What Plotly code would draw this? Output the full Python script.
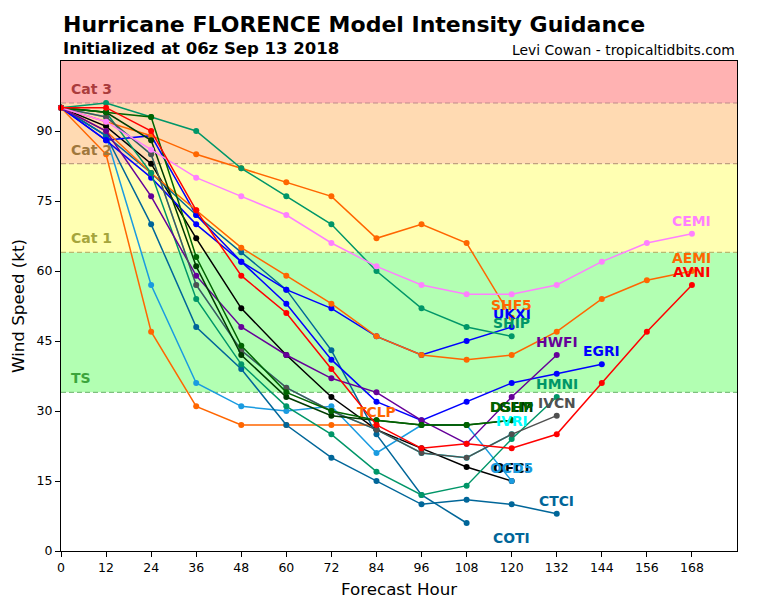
import plotly.graph_objects as go

hours = [0, 12, 24, 36, 48, 60, 72, 84, 96, 108, 120, 132, 144, 156, 168]

# Model intensity forecasts (kt)
IVRI = [95, 93, 85, 57, 43, 35, 30, 26, 21, 20, 25]
TCLP = [95, 85, 47, 31, 27, 27, 27, 27]
OFCI = [95, 91, 83, 67, 52, 42, 33, 26, 22, 18, 15]
OCD5 = [95, 89, 57, 36, 31, 30, 31, 21, 27, 27, 15]
COTI = [95, 89, 81, 72, 64, 56, 43, 25, 12, 6]
CTCI = [95, 89, 70, 48, 39, 27, 20, 15, 10, 11, 10, 8]
EGRI = [95, 88, 80, 70, 62, 53, 41, 32, 28, 32, 36, 38, 40]
UKXI = [95, 88, 89, 72, 62, 56, 52, 46, 42, 45, 48]
AEMI = [95, 90, 81, 73, 65, 59, 53, 46, 42, 41, 42, 47, 54, 58, 60]
SHF5 = [95, 92, 89, 85, 82, 79, 76, 67, 70, 66, 50]
SHIP = [95, 96, 93, 90, 82, 76, 70, 60, 52, 48, 46]
HMNI = [95, 94, 81, 54, 40, 31, 25, 17, 12, 14, 24, 33]
HWFI = [95, 90, 76, 59, 48, 42, 37, 34, 28, 23, 33, 42]
IVCN = [95, 93, 85, 57, 43, 35, 30, 26, 21, 20, 25, 29]
LGEM = [95, 94, 88, 61, 42, 33, 29, 28, 27, 27, 28]
DSHP = [95, 94, 93, 63, 44, 34, 30, 28, 27, 27, 28]
CEMI = [95, 92, 86, 80, 76, 72, 66, 61, 57, 55, 55, 57, 62, 66, 68]
AVNI = [95, 95, 90, 73, 59, 51, 39, 27, 22, 23, 22, 25, 36, 47, 57]

models = [
    ("IVRI", IVRI, "#00ffff"),
    ("TCLP", TCLP, "#ff6600"),
    ("OFCI", OFCI, "#000000"),
    ("OCD5", OCD5, "#1a9be0"),
    ("COTI", COTI, "#006699"),
    ("CTCI", CTCI, "#006699"),
    ("EGRI", EGRI, "#0000ff"),
    ("UKXI", UKXI, "#0000ff"),
    ("AEMI", AEMI, "#ff6600"),
    ("SHF5", SHF5, "#ff6600"),
    ("SHIP", SHIP, "#009668"),
    ("HMNI", HMNI, "#009668"),
    ("HWFI", HWFI, "#660099"),
    ("IVCN", IVCN, "#505050"),
    ("LGEM", LGEM, "#003c00"),
    ("DSHP", DSHP, "#006400"),
    ("CEMI", CEMI, "#ff80ff"),
    ("AVNI", AVNI, "#ff0000"),
]

# label location overrides (hour, kt) for models whose label is not at the last drawn point
label_override = {"COTI": (120, 0)}

# Saffir-Simpson bands
band_names = ["TS", "Cat 1", "Cat 2", "Cat 3"]
band_low = [34, 64, 83, 96]
band_high = [64, 83, 96, 105]
band_fill = ["#b2ffb2", "#ffffb2", "#ffdab2", "#ffb2b2"]
band_line = ["#7fc07f", "#b8b870", "#c0a080", "#c08a8a"]
band_text = ["#3ca53c", "#a5a53c", "#a0783c", "#aa3c3c"]

x_ticks = list(range(0, 169, 12))
y_ticks = list(range(0, 91, 15))

FONT = "DejaVu Sans"

fig = go.Figure()

shapes = []
annotations = []
for name, lo, hi, fc, lc, tc in zip(band_names, band_low, band_high, band_fill, band_line, band_text):
    shapes.append(dict(type="rect", xref="paper", yref="y", x0=0, x1=1, y0=lo, y1=hi,
                       fillcolor=fc, line=dict(width=0), layer="below"))
    shapes.append(dict(type="line", xref="paper", yref="y", x0=0, x1=1, y0=lo, y1=lo,
                       line=dict(color=lc, width=1.2, dash="5px,3px"), layer="below"))
    annotations.append(dict(x=2, y=lo + 3, xref="x", yref="y", text="<b>%s</b>" % name,
                            showarrow=False, xanchor="left", yanchor="middle",
                            font=dict(family=FONT, size=14, color=tc)))

for name, vals, color in models:
    xs = hours[:len(vals)]
    fig.add_trace(go.Scatter(x=xs, y=vals, mode="lines+markers", name=name,
                             line=dict(color=color, width=1.5),
                             marker=dict(color=color, size=6),
                             showlegend=False, cliponaxis=False))

for name, vals, color in models:
    lx, ly = label_override.get(name, (hours[len(vals) - 1], vals[-1]))
    annotations.append(dict(x=lx, y=ly, xref="x", yref="y", text="<b>%s</b>" % name,
                            showarrow=False, xanchor="center", yanchor="middle", yshift=13,
                            font=dict(family=FONT, size=13.9, color=color)))

annotations += [
    dict(x=0, y=1.0755, xref="paper", yref="paper", text="<b>Hurricane FLORENCE Model Intensity Guidance</b>",
         showarrow=False, xanchor="left", yanchor="middle", font=dict(family=FONT, size=22, color="black")),
    dict(x=0, y=1.0265, xref="paper", yref="paper", text="<b>Initialized at 06z Sep 13 2018</b>",
         showarrow=False, xanchor="left", yanchor="middle", font=dict(family=FONT, size=16.5, color="black")),
    dict(x=1, y=1.0224, xref="paper", yref="paper", text="Levi Cowan - tropicaltidbits.com",
         showarrow=False, xanchor="right", yanchor="middle", font=dict(family=FONT, size=13.9, color="black")),
    dict(x=0.5, y=-0.0776, xref="paper", yref="paper", text="Forecast Hour",
         showarrow=False, xanchor="center", yanchor="middle", font=dict(family=FONT, size=16.7, color="black")),
    dict(x=-0.0636, y=0.5, xref="paper", yref="paper", text="Wind Speed (kt)", textangle=-90,
         showarrow=False, xanchor="center", yanchor="middle", font=dict(family=FONT, size=16.7, color="black")),
]

fig.update_layout(
    width=768, height=600,
    margin=dict(l=61, r=31, t=61, b=49),
    paper_bgcolor="white", plot_bgcolor="white",
    shapes=shapes, annotations=annotations,
    font=dict(family=FONT, color="black"),
    xaxis=dict(range=[0, 180], tickvals=x_ticks, ticks="outside", ticklen=5, tickcolor="black",
               showline=True, linecolor="black", linewidth=1, mirror=True, showgrid=False, zeroline=False,
               tickfont=dict(family=FONT, size=12.5), automargin=False),
    yaxis=dict(range=[0, 105], tickvals=y_ticks, ticks="outside", ticklen=5, tickcolor="black",
               showline=True, linecolor="black", linewidth=1, mirror=True, showgrid=False, zeroline=False,
               tickfont=dict(family=FONT, size=12.5), automargin=False),
)

fig.write_html("out.html")
